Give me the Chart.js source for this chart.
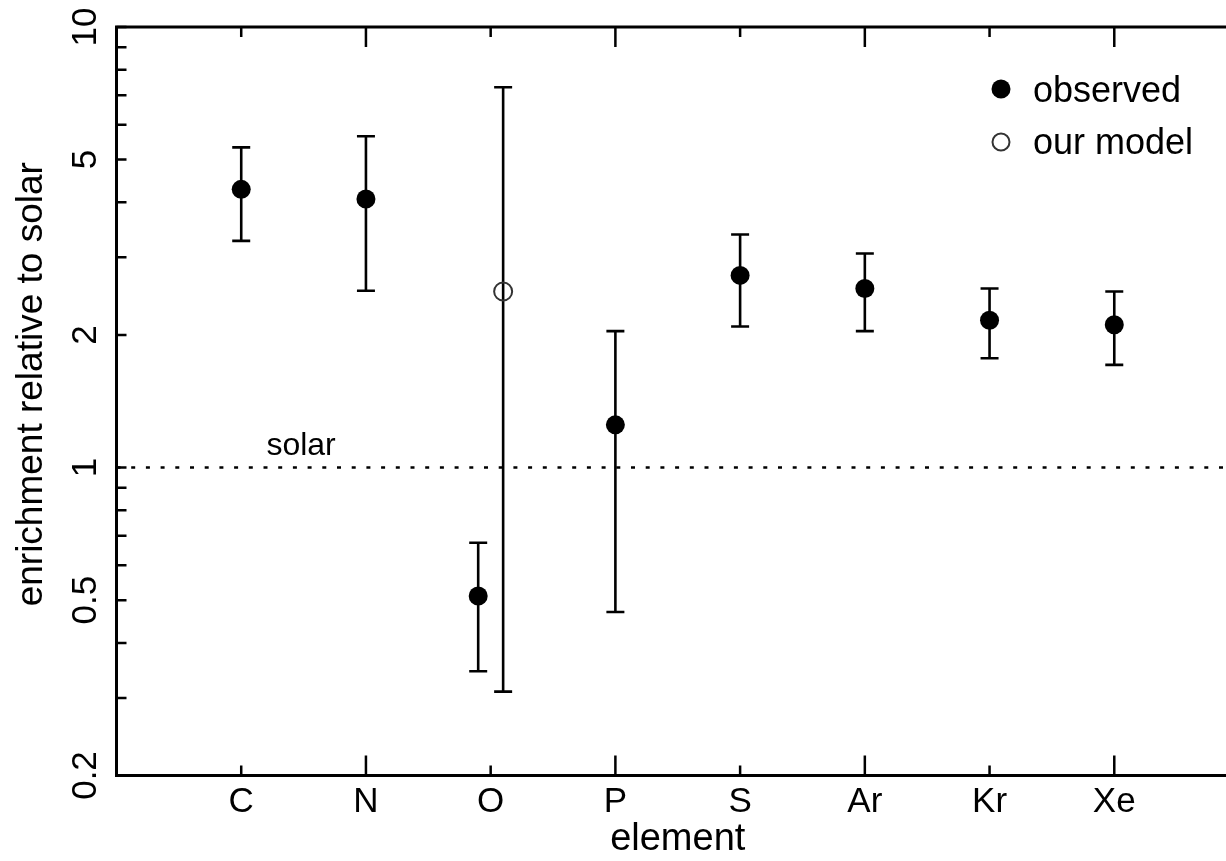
<!DOCTYPE html>
<html>
<head>
<meta charset="utf-8">
<title>Element enrichment relative to solar</title>
<script src="https://cdn.jsdelivr.net/npm/chart.js@4.4.1/dist/chart.umd.min.js"></script>
<style>
  html, body { margin: 0; padding: 0; background: #fff; overflow: hidden; }
  #wrap { width: 1250px; height: 861px; }
</style>
</head>
<body>
<div id="wrap"><canvas id="chart" width="1250" height="861"></canvas></div>
<script>
// Categories along the x axis (element positions are 1..8)
const elements = ['C', 'N', 'O', 'P', 'S', 'Ar', 'Kr', 'Xe'];

// Observed enrichment with lower / upper error limits
const obsX     = [1, 2, 2.9, 4, 5, 6, 7, 8];
const obsValue = [4.28, 4.07, 0.511, 1.25, 2.73, 2.55, 2.16, 2.11];
const obsLow   = [3.27, 2.52, 0.345, 0.47, 2.09, 2.04, 1.77, 1.71];
const obsHigh  = [5.33, 5.65, 0.675, 2.04, 3.38, 3.06, 2.55, 2.51];

// Model prediction (oxygen only)
const modelX     = [3.1];
const modelValue = [2.51];
const modelLow   = [0.31];
const modelHigh  = [7.3];

// Solar reference level
const solarLevel = [1, 1];
const solarX     = [0, 9];

// Log-axis labels and unlabeled minor ticks
const yTickLabels = ['0.2', '0.5', '1', '2', '5', '10'];
const yMinorTicks = [0.3, 0.4, 0.6, 0.7, 0.8, 0.9, 3, 4, 6, 7, 8, 9];

const FONT = '"Liberation Sans", Arial, Helvetica, sans-serif';

const decorations = {
  id: 'decorations',
  beforeDatasetsDraw(chart) {
    const { ctx, scales: { x, y } } = chart;
    ctx.save();
    ctx.strokeStyle = '#000';
    ctx.lineWidth = 2.6;
    ctx.lineCap = 'butt';
    chart.data.datasets.forEach(ds => {
      if (!ds.errLow) return;
      ds.data.forEach((p, i) => {
        const px = x.getPixelForValue(p.x);
        const lo = y.getPixelForValue(ds.errLow[i]);
        const hi = y.getPixelForValue(ds.errHigh[i]);
        ctx.beginPath();
        ctx.moveTo(px, lo); ctx.lineTo(px, hi);
        ctx.moveTo(px - 9, lo); ctx.lineTo(px + 9, lo);
        ctx.moveTo(px - 9, hi); ctx.lineTo(px + 9, hi);
        ctx.stroke();
      });
    });
    ctx.restore();
  },
  afterDraw(chart) {
    const { ctx, chartArea: a, scales: { x, y } } = chart;
    ctx.save();

    // frame
    ctx.strokeStyle = '#000';
    ctx.lineWidth = 3;
    ctx.strokeRect(a.left, a.top, a.right - a.left, a.bottom - a.top);

    // inward ticks on x (alternating short / long), bottom and top
    ctx.lineWidth = 2.5;
    ctx.beginPath();
    x.ticks.forEach((t, i) => {
      const px = x.getPixelForValue(t.value);
      const len = (i % 2 === 0) ? 10 : 20;
      ctx.moveTo(px, a.bottom); ctx.lineTo(px, a.bottom - len);
      ctx.moveTo(px, a.top);    ctx.lineTo(px, a.top + len);
    });
    // inward ticks on y, left and right
    const yAll = yTickLabels.map(parseFloat).concat(yMinorTicks);
    yAll.forEach(v => {
      const py = y.getPixelForValue(v);
      ctx.moveTo(a.left, py);  ctx.lineTo(a.left + 10, py);
      ctx.moveTo(a.right, py); ctx.lineTo(a.right - 10, py);
    });
    ctx.stroke();

    // y axis title
    ctx.fillStyle = '#000';
    ctx.font = `37px ${FONT}`;
    ctx.textAlign = 'center';
    ctx.textBaseline = 'alphabetic';
    ctx.save();
    ctx.translate(42, (a.top + a.bottom) / 2 - 17);
    ctx.rotate(-Math.PI / 2);
    ctx.fillText('enrichment relative to solar', 0, 0);
    ctx.restore();

    // solar label above the reference line
    ctx.font = `32px ${FONT}`;
    ctx.fillText('solar', x.getPixelForValue(1.48), y.getPixelForValue(solarLevel[0]) - 13);

    // legend
    const lx = a.right - 238;
    const ly = a.top + 62;
    const gap = 53;
    ctx.beginPath();
    ctx.arc(lx, ly, 9.5, 0, Math.PI * 2);
    ctx.fill();
    ctx.beginPath();
    ctx.arc(lx, ly + gap, 8.5, 0, Math.PI * 2);
    ctx.strokeStyle = '#333';
    ctx.lineWidth = 2;
    ctx.stroke();
    ctx.font = `36px ${FONT}`;
    ctx.textAlign = 'left';
    ctx.fillText('observed', lx + 32, ly + 12.5);
    ctx.fillText('our model', lx + 32, ly + gap + 12);

    ctx.restore();
  }
};

new Chart(document.getElementById('chart'), {
  type: 'scatter',
  data: {
    datasets: [
      {
        label: 'solar',
        type: 'line',
        data: solarX.map((v, i) => ({ x: v, y: solarLevel[i] })),
        showLine: true,
        borderColor: '#000',
        borderWidth: 2.5,
        borderDash: [4, 10.7],
        pointRadius: 0,
        fill: false
      },
      {
        label: 'observed',
        data: obsX.map((v, i) => ({ x: v, y: obsValue[i] })),
        errLow: obsLow,
        errHigh: obsHigh,
        pointRadius: 9.5,
        pointHoverRadius: 9.5,
        backgroundColor: '#000',
        borderColor: '#000',
        borderWidth: 0
      },
      {
        label: 'our model',
        data: modelX.map((v, i) => ({ x: v, y: modelValue[i] })),
        errLow: modelLow,
        errHigh: modelHigh,
        pointRadius: 9,
        pointHoverRadius: 9,
        backgroundColor: 'rgba(255,255,255,0)',
        borderColor: '#333',
        borderWidth: 2
      }
    ]
  },
  options: {
    responsive: false,
    devicePixelRatio: 1,
    animation: false,
    events: [],
    layout: { padding: { top: 25.5, right: 10.3, bottom: 0, left: 0 } },
    plugins: { legend: { display: false }, tooltip: { enabled: false } },
    scales: {
      x: {
        type: 'linear',
        min: 0,
        max: 9,
        afterBuildTicks: s => { s.ticks = elements.map((_, i) => ({ value: i + 1 })); },
        afterFit: s => { s.height = 85.5; },
        grid: { display: false, drawTicks: false },
        border: { display: false },
        ticks: {
          color: '#000',
          font: { family: FONT, size: 35 },
          padding: 6,
          autoSkip: false,
          maxRotation: 0,
          callback: v => elements[Math.round(v) - 1] || ''
        },
        title: {
          display: true,
          text: 'element',
          color: '#000',
          font: { family: FONT, size: 38, lineHeight: 1 },
          padding: { top: 0, bottom: 2 }
        }
      },
      y: {
        type: 'logarithmic',
        min: 0.2,
        max: 10,
        afterBuildTicks: s => { s.ticks = yTickLabels.map(t => ({ value: parseFloat(t) })); },
        afterFit: s => { s.width = 116.5; },
        grid: { display: false, drawTicks: false },
        border: { display: false },
        ticks: {
          color: '#000',
          font: { family: FONT, size: 35 },
          padding: 6,
          minRotation: 90,
          maxRotation: 90,
          crossAlign: 'center',
          autoSkip: false,
          callback: (v, i) => yTickLabels[i]
        }
      }
    }
  },
  plugins: [decorations]
});
</script>
</body>
</html>
